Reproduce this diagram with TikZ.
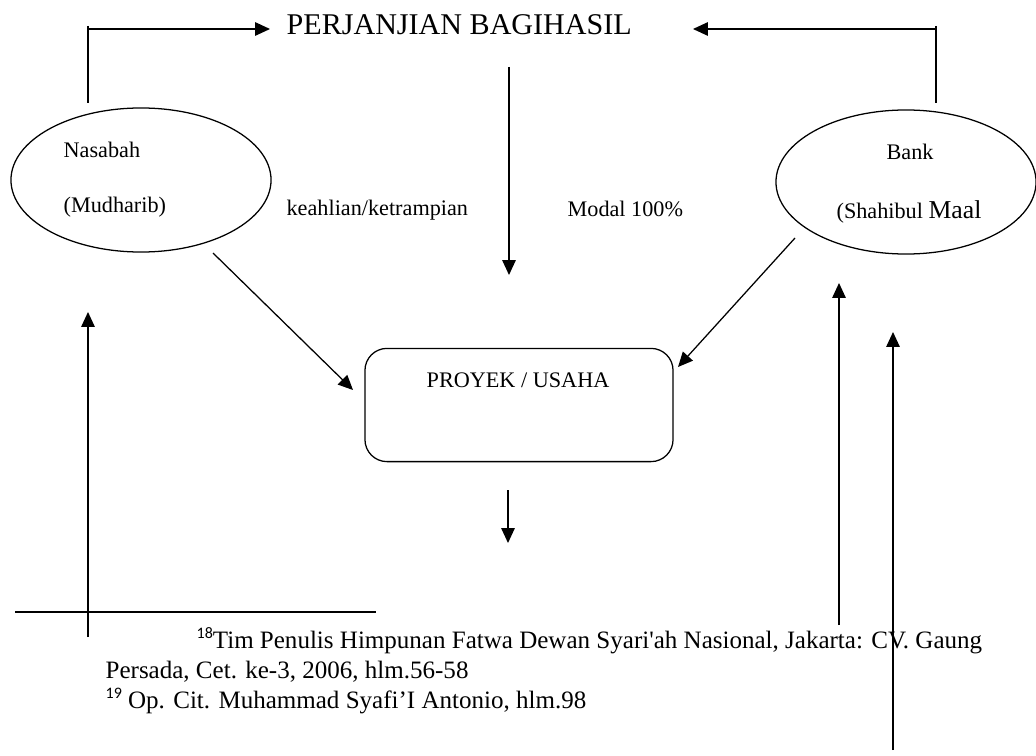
\documentclass[tikz,border=0pt]{standalone}
\usepackage{fontspec}
\setmainfont{Liberation Serif}
\setsansfont{Carlito}
\usepackage{tikz}
\usetikzlibrary{shapes.geometric,arrows.meta}
\definecolor{tinta}{RGB}{0, 0, 0}

\begin{document}
\begin{tikzpicture}[x=0.025cm, y=-0.025cm, line width=0.9pt, draw=tinta, text=tinta,
  panah/.style={-{Triangle[length=10.5pt,width=9.5pt]}},
  teks/.style={inner sep=0pt, anchor=base west, font=\fontsize{15.8}{18}\selectfont},
  catatan/.style={inner sep=0pt, anchor=base west, font=\fontsize{17.8}{20}\selectfont},
  pihak/.style={draw, ellipse, minimum width=6.5cm, minimum height=3.6cm}]
\useasboundingbox (0,0) rectangle (1036,755);

% Judul dan kedua pihak
\node[inner sep=0pt, anchor=base west, font=\fontsize{21.4}{24}\selectfont] (judul) at (286,35) {PERJANJIAN BAGIHASIL};
\node[pihak] (nasabah) at (141,180) {};
\node[pihak] (bank) at (906,182) {};
\node[draw, rounded corners=0.55cm, minimum width=7.7cm, minimum height=2.83cm] (proyek) at (519,405) {};

% Teks di dalam bentuk
\node[teks] (nasabahA) at (63,157) {Nasabah};
\node[teks] (nasabahB) at (63,212) {(Mudharib)};
\node[teks, anchor=base] (bankA) at (910,159) {Bank};
\node[teks, anchor=base] (bankB) at (909,218) {(Shahibul {\fontsize{18.3}{20}\selectfont Maal}};
\node[teks, anchor=base] (proyekA) at (518,387) {PROYEK / USAHA};
\node[teks] (keahlian) at (286,215) {keahlian/ketrampian};
\node[teks] (modal) at (567,216) {Modal 100\%};

% Ujung-ujung panah
\coordinate (nasUp) at (88,103);
\coordinate (judulL) at (270,29);
\coordinate (bankUp) at (936,103);
\coordinate (judulR) at (693,29);
\coordinate (modal0) at (509,67);
\coordinate (modal1) at (509,275);
\coordinate (kiri0) at (213,253);
\coordinate (kiri1) at (353,390);
\coordinate (kanan0) at (795,238);
\coordinate (kanan1) at (678,367);
\coordinate (hasil0) at (508,490);
\coordinate (hasil1) at (508,543);

\draw (88,26) -- (nasUp);
\draw[panah] (nasUp) |- (judulL);
\draw (936,26) -- (bankUp);
\draw[panah] (bankUp) |- (judulR);
\draw[panah] (modal0) -- (modal1);
\draw[panah] (kiri0) -- (kiri1);
\draw[panah] (kanan0) -- (kanan1);
\draw[panah] (hasil0) -- (hasil1);

% Panah naik
\foreach \n/\x/\ya/\yb in {naikA/88/637/312, naikB/839/625/283, naikC/893/750/332} {
  \coordinate (\n0) at (\x,\ya);
  \coordinate (\n1) at (\x,\yb);
  \draw[panah] (\n0) -- (\n1);
}

% Catatan kaki
\coordinate (garis0) at (15,612);
\coordinate (garis1) at (376,612);
\draw (garis0) -- (garis1);
\node[catatan] (fn18) at (196,648) {\raisebox{7pt}{\fontsize{11.4}{12}\sffamily 18}Tim Penulis Himpunan Fatwa Dewan Syari\textquotesingle ah Nasional, Jakarta: CV. Gaung};
\node[catatan] (fn18b) at (105,678) {Persada, Cet. ke-3, 2006, hlm.56-58};
\node[catatan] (fn19) at (105,708) {\raisebox{7pt}{\fontsize{11.4}{12}\sffamily 19} Op. Cit. Muhammad Syafi’I Antonio, hlm.98};
\end{tikzpicture}
\end{document}
